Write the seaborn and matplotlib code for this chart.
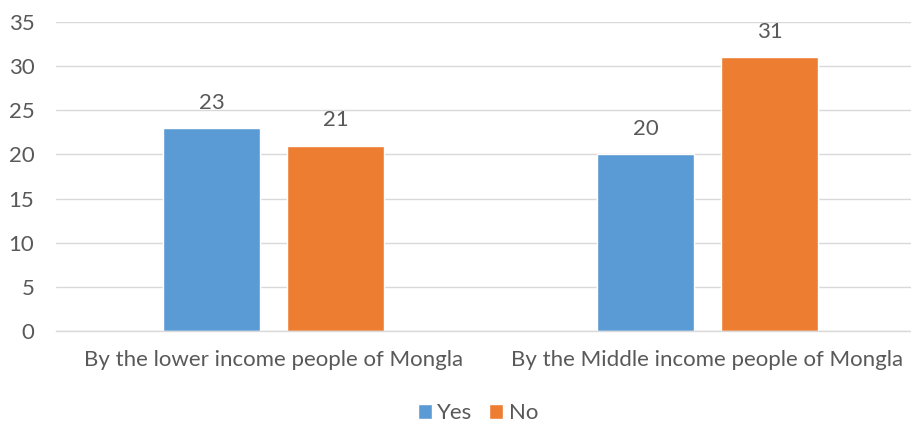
import pandas as pd
import numpy as np
import matplotlib
matplotlib.use('Agg')
import matplotlib.pyplot as plt
import seaborn as sns

categories = ['By the lower income people of Mongla', 'By the Middle income people of Mongla']
yes_values = [23, 20]
no_values = [21, 31]
series_names = ['Yes', 'No']
y_ticks = [0, 5, 10, 15, 20, 25, 30, 35]

df = pd.DataFrame({
    'category': categories * 2,
    'answer': [series_names[0]] * 2 + [series_names[1]] * 2,
    'value': yes_values + no_values,
})

sns.set_style('white')
plt.rcParams['font.family'] = ['Lato', 'DejaVu Sans']
text_color = '#595959'
fs = 16

W, H = 912, 428
fig = plt.figure(figsize=(W / 100, H / 100), dpi=100)
ax = fig.add_axes([56.5 / W, (H - 331) / H, 868 / W, 309 / H])

sns.barplot(
    data=df, x='category', y='value', hue='answer',
    palette=['#5B9BD5', '#ED7D31'], width=0.571, gap=0.21,
    saturation=1, ax=ax, legend=True,
)

ax.set_ylim(0, 35)
ax.set_xlim(-0.5, 1.5)
ax.set_yticks(y_ticks)
ax.yaxis.grid(True, color='#D9D9D9', linewidth=1)
ax.set_axisbelow(True)
for s in ['top', 'right', 'left']:
    ax.spines[s].set_visible(False)
ax.spines['bottom'].set_color('#D9D9D9')
ax.spines['bottom'].set_linewidth(1)
ax.tick_params(axis='both', length=0, labelsize=fs, colors=text_color)
ax.tick_params(axis='y', pad=16)
ax.tick_params(axis='x', pad=14)
ax.set_xlabel('')
ax.set_ylabel('')

for c in ax.containers:
    ax.bar_label(c, labels=[str(int(v)) for v in c.datavalues], padding=11,
                 fontsize=fs, color=text_color)

ax.get_legend().remove()
handles, labels = ax.get_legend_handles_labels()
fig.legend(handles, labels, loc='center', bbox_to_anchor=(478 / W, 1 - 413 / H),
           ncol=2, frameon=False, fontsize=fs, handlelength=0.64, handleheight=0.64,
           handletextpad=0.25, columnspacing=0.75, labelcolor=text_color)

fig.savefig('out.png', dpi=100)
